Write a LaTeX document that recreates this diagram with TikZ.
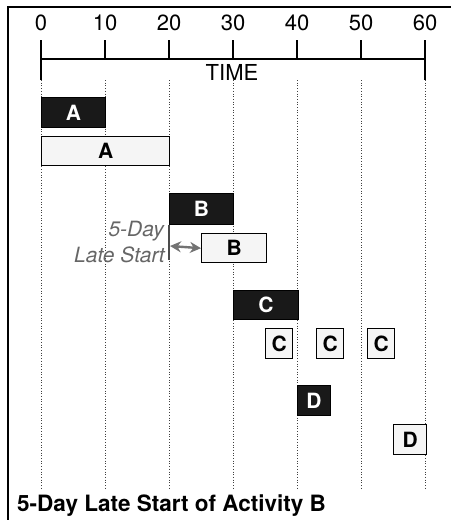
\documentclass[tikz,border=0pt]{standalone}
\usepackage{fontspec}
\setmainfont{TeX Gyre Heros}
\usetikzlibrary{arrows.meta}
\begin{document}
\begin{tikzpicture}[x=1pt,y=-1pt,
  darkbar/.style={draw=black, fill=black!90, text=white, line width=0.8pt,
    font=\bfseries\fontsize{21}{21}\selectfont, inner sep=0pt, anchor=north west},
  lightbar/.style={draw=black, fill=black!4, text=black, line width=1.4pt,
    font=\bfseries\fontsize{21}{21}\selectfont, inner sep=0pt, anchor=north west},
  gridln/.style={dotted, line width=0.7pt, black!75},
  axisln/.style={line width=1.6pt, black},
  numlbl/.style={font=\fontsize{22}{22}\selectfont, inner sep=0pt},
  latelbl/.style={font=\itshape\fontsize{21}{21}\selectfont, text=black!60, anchor=east, inner sep=0pt}]
\useasboundingbox (0,0) rectangle (451,520);
% frame
\draw[line width=2pt] (8,520) -- (8,7) -- (451,7);
% grid lines
\foreach \x in {41,105,169,233,297,361,425}
  \draw[gridln] (\x,80) -- (\x,490);
% axis
\coordinate (t0) at (41,59);
\coordinate (t60) at (425,59);
\draw[axisln] (t0) -- (t60);
\draw[axisln] (41,40) -- (41,80);
\draw[axisln] (425,40) -- (425,80);
\foreach \x in {105,169,233,297,361}
  \draw[axisln] (\x,40) -- (\x,59);
\foreach \x/\v in {41/0,105/10,169/20,233/30,297/40,361/50,425/60}
  \node[numlbl] (n\v) at (\x,23) {\v};
\node[font=\fontsize{22}{22}\selectfont, inner sep=0pt] (time) at (232,72) {TIME};
% bars
\node[darkbar, minimum width=64pt, minimum height=30pt] (a1) at (41,97) {A};
\node[lightbar, minimum width=128pt, minimum height=29pt] (a2) at (41,136) {A};
\node[darkbar, minimum width=64pt, minimum height=31pt] (b1) at (169,193) {B};
\node[lightbar, minimum width=65pt, minimum height=29pt] (b2) at (201,233) {B};
\node[darkbar, minimum width=65pt, minimum height=29pt] (c1) at (233,290) {C};
\node[lightbar, minimum width=27pt, minimum height=30pt] (c2) at (265,328) {C};
\node[lightbar, minimum width=27pt, minimum height=30pt] (c3) at (316,328) {C};
\node[lightbar, minimum width=27pt, minimum height=30pt] (c4) at (367,328) {C};
\node[darkbar, minimum width=33pt, minimum height=30pt] (d1) at (297,385) {D};
\node[lightbar, minimum width=33pt, minimum height=30pt] (d2) at (393,424) {D};
% late start marker
\coordinate (ls) at (170,246);
\coordinate (lsb) at (169,260);
\draw[line width=1.4pt, black!70] (b1.south west) -- (lsb);
\draw[line width=2.4pt, black!55, {Stealth[length=11pt,width=11pt]}-{Stealth[length=11pt,width=11pt]}] (ls) -- (b2.west);
\node[latelbl] (late1) at (164,231) {5-Day};
\node[latelbl] (late2) at (165,255) {Late Start};
% title
\node[font=\bfseries\fontsize{22.5}{22.5}\selectfont, anchor=west, inner sep=0pt] (title) at (17,506) {5-Day Late Start of Activity B};
\end{tikzpicture}
\end{document}
